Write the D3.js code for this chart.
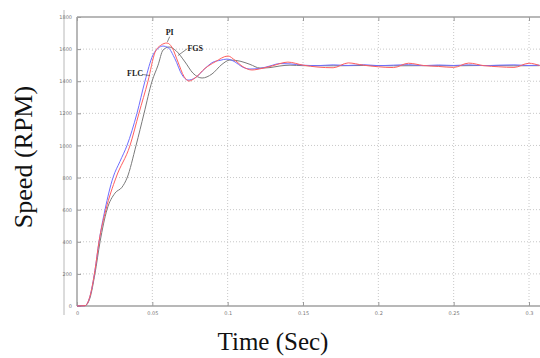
<!DOCTYPE html>
<html>
<head>
<meta charset="utf-8">
<script src="https://cdn.jsdelivr.net/npm/d3@7"></script>
<style>
  body { margin: 0; background: #fff; }
  svg { display: block; }
  .tick text { font-family: "Liberation Sans Narrow", "DejaVu Sans", sans-serif; font-size: 5px; fill: #777; }
  .grid line { stroke: #c8c8c8; stroke-dasharray: 1,2; }
</style>
</head>
<body>
<svg id="chart"></svg>
<script>
// x ticks / y ticks
var xTicks = [0, 0.05, 0.1, 0.15, 0.2, 0.25, 0.3];
var yTicks = [0, 200, 400, 600, 800, 1000, 1200, 1400, 1600, 1800];

// FLC (blue)
var flcTime  = [0, 0.0053, 0.0086, 0.0119, 0.0146, 0.0186, 0.0239, 0.0285, 0.0332, 0.0398, 0.0451, 0.0504, 0.0538, 0.0571, 0.0604, 0.065, 0.0697, 0.0737, 0.0783, 0.085, 0.0903, 0.0949, 0.0996, 0.1049, 0.1095, 0.1148, 0.1215, 0.1281, 0.1347, 0.1414, 0.15, 0.16, 0.17, 0.18, 0.19, 0.2, 0.21, 0.22, 0.23, 0.24, 0.25, 0.26, 0.27, 0.28, 0.29, 0.3, 0.307];
var flcSpeed = [0, 2, 60, 220, 400, 600, 800, 900, 1000, 1200, 1400, 1563, 1605, 1619, 1610, 1540, 1440, 1407, 1420, 1480, 1519, 1530, 1538, 1520, 1490, 1476, 1480, 1495, 1510, 1508, 1500, 1497, 1502, 1498, 1503, 1497, 1500, 1503, 1497, 1501, 1498, 1502, 1497, 1500, 1502, 1498, 1500];

// PI (red)
var piTime  = [0, 0.0053, 0.0086, 0.0119, 0.0146, 0.0192, 0.0259, 0.0352, 0.0411, 0.0471, 0.0518, 0.0558, 0.0597, 0.0631, 0.067, 0.071, 0.0743, 0.0783, 0.085, 0.0916, 0.1002, 0.1049, 0.1102, 0.1161, 0.1228, 0.1294, 0.14, 0.15, 0.16, 0.17, 0.18, 0.19, 0.2, 0.21, 0.22, 0.23, 0.24, 0.25, 0.26, 0.27, 0.28, 0.29, 0.3, 0.307];
var piSpeed = [0, 2, 60, 220, 400, 600, 800, 1000, 1200, 1400, 1580, 1625, 1638, 1610, 1520, 1430, 1401, 1420, 1480, 1520, 1557, 1530, 1490, 1470, 1480, 1495, 1519, 1500, 1488, 1484, 1514, 1500, 1490, 1485, 1512, 1498, 1492, 1486, 1513, 1497, 1490, 1486, 1512, 1498];

// FGS (gray)
var fgsTime  = [0, 0.0053, 0.0086, 0.0119, 0.0153, 0.0199, 0.0252, 0.0299, 0.0332, 0.0392, 0.0445, 0.0498, 0.0538, 0.0571, 0.0611, 0.0657, 0.0717, 0.077, 0.083, 0.0896, 0.0962, 0.1015, 0.1082, 0.1148, 0.1215, 0.1281, 0.1347, 0.1414, 0.15, 0.17, 0.19, 0.21, 0.23, 0.25, 0.27, 0.29, 0.307];
var fgsSpeed = [0, 2, 50, 200, 400, 600, 703, 740, 797, 1000, 1200, 1400, 1500, 1594, 1613, 1590, 1520, 1450, 1420, 1445, 1505, 1532, 1525, 1505, 1482, 1485, 1495, 1500, 1497, 1496, 1498, 1496, 1497, 1496, 1498, 1496, 1497];

var series = [
  { name: "FGS", t: fgsTime, v: fgsSpeed, color: "#7a7a7a" },
  { name: "FLC", t: flcTime, v: flcSpeed, color: "#6e6eff" },
  { name: "PI",  t: piTime,  v: piSpeed,  color: "#ff5f5f" }
];

// label anchors in data units: label pos, curve point
var labels = [
  { text: "FLC", lt: 0.0385, lv: 1430, pt: 0.0485, pv: 1435, dx: 7, dy: -2 },
  { text: "PI",  lt: 0.0615, lv: 1690, pt: 0.0600, pv: 1645, dx: 0, dy: 2 },
  { text: "FGS", lt: 0.0785, lv: 1590, pt: 0.0670, pv: 1560, dx: -8, dy: -2 }
];

var svgWidth = 540, svgHeight = 358;
var margin = { top: 17, left: 77, bottom: 52 };
var plotRight = 529; // x of t = 0.3

var svg = d3.select("#chart")
  .attr("width", svgWidth)
  .attr("height", svgHeight);

var x = d3.scaleLinear().domain([0, 0.3]).range([margin.left, plotRight]);
var y = d3.scaleLinear().domain([0, 1800]).range([svgHeight - margin.bottom, margin.top]);
var xEnd = svgWidth;
var yBottom = y(0), yTop = y(1800);

// outer frame line
svg.append("line")
  .attr("x1", 64).attr("x2", 64)
  .attr("y1", 10).attr("y2", 315)
  .attr("stroke", "#b8b8b8").attr("stroke-width", 1);

// grid
var grid = svg.append("g").attr("class", "grid");
grid.selectAll(".gx").data(xTicks.slice(1)).enter().append("line")
  .attr("x1", function(d) { return x(d); }).attr("x2", function(d) { return x(d); })
  .attr("y1", yTop).attr("y2", yBottom);
grid.selectAll(".gy").data(yTicks.slice(1, -1)).enter().append("line")
  .attr("x1", x(0)).attr("x2", xEnd)
  .attr("y1", function(d) { return y(d); }).attr("y2", function(d) { return y(d); });

// axes
var xAxis = svg.append("g")
  .attr("transform", "translate(0," + yBottom + ")")
  .call(d3.axisBottom(x).tickValues(xTicks).tickSize(-4).tickPadding(5).tickFormat(d3.format("")));
var xTop = svg.append("g")
  .attr("transform", "translate(0," + yTop + ")")
  .call(d3.axisTop(x).tickValues(xTicks).tickSize(-4).tickFormat(""));
var yAxis = svg.append("g")
  .attr("transform", "translate(" + x(0) + ",0)")
  .call(d3.axisLeft(y).tickValues(yTicks).tickSize(-4).tickPadding(5).tickFormat(d3.format("d")));

[xAxis, xTop, yAxis].forEach(function(a) {
  a.select(".domain").remove();
  a.selectAll(".tick line").attr("stroke", "#999").attr("stroke-width", 1);
});

// frame lines (bottom, top, left)
svg.append("line").attr("x1", x(0)).attr("x2", xEnd).attr("y1", yBottom).attr("y2", yBottom)
  .attr("stroke", "#a0a0a0").attr("stroke-width", 1.5);
svg.append("line").attr("x1", x(0)).attr("x2", xEnd).attr("y1", yTop).attr("y2", yTop)
  .attr("stroke", "#a0a0a0").attr("stroke-width", 1.5);
svg.append("line").attr("x1", x(0)).attr("x2", x(0)).attr("y1", yTop).attr("y2", yBottom)
  .attr("stroke", "#a0a0a0").attr("stroke-width", 1.5);

// curves
var line = d3.line()
  .x(function(d) { return x(d[0]); })
  .y(function(d) { return y(d[1]); })
  .curve(d3.curveMonotoneX);

series.forEach(function(s) {
  var pts = s.t.map(function(t, i) { return [t, s.v[i]]; });
  svg.append("path")
    .datum(pts)
    .attr("fill", "none")
    .attr("stroke", s.color)
    .attr("stroke-width", 1)
    .attr("d", line);
});

// annotations
labels.forEach(function(l) {
  svg.append("line")
    .attr("x1", x(l.lt) + l.dx)
    .attr("y1", y(l.lv) + l.dy)
    .attr("x2", x(l.pt)).attr("y2", y(l.pv))
    .attr("stroke", "#555").attr("stroke-width", 0.7);
  svg.append("text")
    .attr("x", x(l.lt)).attr("y", y(l.lv))
    .attr("text-anchor", "middle")
    .style("font-family", "'Liberation Serif', serif")
    .style("font-weight", "bold")
    .style("font-size", "8px")
    .attr("fill", "#222")
    .text(l.text);
});

// axis titles
svg.append("text")
  .attr("transform", "translate(32,157) rotate(-90)")
  .attr("text-anchor", "middle")
  .style("font-family", "'Liberation Serif', serif")
  .style("font-size", "26px")
  .attr("fill", "#111")
  .text("Speed (RPM)");

svg.append("text")
  .attr("x", 273).attr("y", 350)
  .attr("text-anchor", "middle")
  .style("font-family", "'Liberation Serif', serif")
  .style("font-size", "25px")
  .attr("fill", "#111")
  .text("Time (Sec)");
</script>
</body>
</html>
